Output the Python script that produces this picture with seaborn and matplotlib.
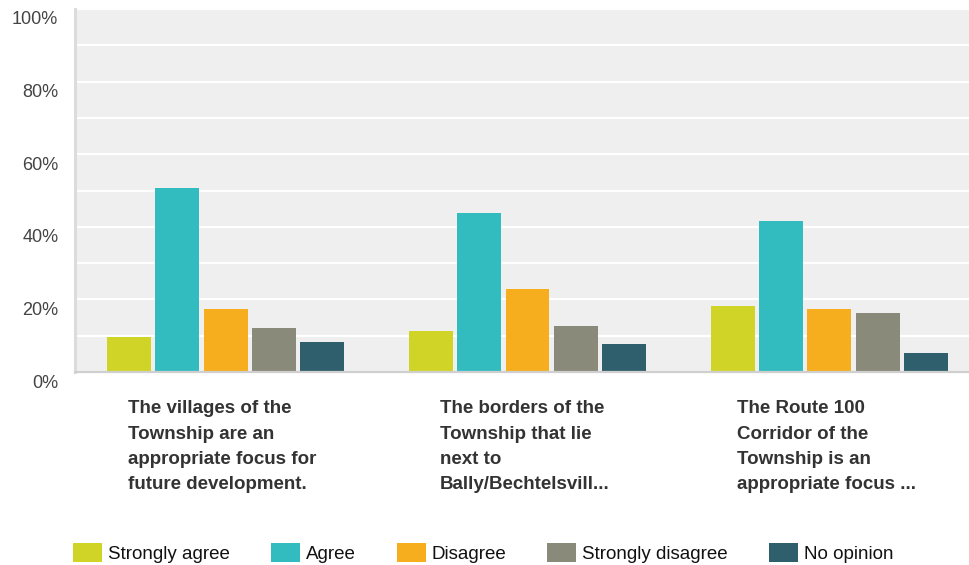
import matplotlib
matplotlib.use("Agg")
import matplotlib.pyplot as plt
import matplotlib.transforms as mtransforms
from matplotlib.patches import Patch
import seaborn as sns
import pandas as pd

categories = [
    "The villages of the\nTownship are an\nappropriate focus for\nfuture development.",
    "The borders of the\nTownship that lie\nnext to\nBally/Bechtelsvill...",
    "The Route 100\nCorridor of the\nTownship is an\nappropriate focus ...",
]
responses = ["Strongly agree", "Agree", "Disagree", "Strongly disagree", "No opinion"]
strongly_agree = [9.6, 11.3, 18.2]
agree = [50.7, 43.8, 41.6]
disagree = [17.4, 22.9, 17.4]
strongly_disagree = [12.1, 12.7, 16.3]
no_opinion = [8.3, 7.7, 5.2]
y_ticks = [0, 20, 40, 60, 80, 100]
y_tick_labels = ["0%", "20%", "40%", "60%", "80%", "100%"]

colors = ["#CFD427", "#33BCBF", "#F6AE1F", "#8A8A7A", "#2F5F6D"]

series = [strongly_agree, agree, disagree, strongly_disagree, no_opinion]
rows = []
for resp, vals in zip(responses, series):
    for cat, v in zip(categories, vals):
        rows.append({"category": cat, "response": resp, "value": v})
df = pd.DataFrame(rows)

sns.set_theme(style="white")
plt.rcParams["font.family"] = ["Liberation Sans", "DejaVu Sans"]

W, H = 969, 565
fig = plt.figure(figsize=(W / 100, H / 100), dpi=100)
ax = fig.add_axes([75 / W, (H - 372) / H, (W - 75) / W, (372 - 9) / H])
ax.set_facecolor("#EFEFEF")

sns.barplot(data=df, x="category", y="value", hue="response",
            hue_order=responses, order=categories, palette=colors,
            width=0.8, gap=0.09, ax=ax, legend=False, saturation=1,
            edgecolor="none", linewidth=0)

ax.set_xlim(-0.4987, 2.4623)
ax.set_ylim(0, 100)
ax.set_yticks(y_ticks)
ax.set_yticklabels(y_tick_labels)
ax.set_yticks(list(range(10, 100, 20)), minor=True)
ax.grid(axis="y", which="both", color="white", linewidth=1.6)
ax.set_axisbelow(True)
ax.set_xlabel("")
ax.set_ylabel("")

for s in ["top", "right"]:
    ax.spines[s].set_visible(False)
ax.spines["left"].set_color("#DCDCDC")
ax.spines["left"].set_linewidth(2.2)
ax.spines["bottom"].set_color("#CFCFCF")
ax.spines["bottom"].set_linewidth(1.6)

ax.tick_params(axis="y", which="both", length=0, pad=12, labelsize=13, labelcolor="#444444")
ax.tick_params(axis="x", length=0, pad=20.5)
offset = mtransforms.ScaledTranslation(0, -9 / 100, fig.dpi_scale_trans)
for lbl in ax.get_yticklabels():
    lbl.set_transform(lbl.get_transform() + offset)

ax.set_xticks(range(len(categories)))
ax.set_xticklabels(categories, fontsize=13.5, fontweight="bold", color="#333333",
                   ha="center", va="top", multialignment="left", linespacing=1.62)
xoffset = mtransforms.ScaledTranslation(-3 / 100, 0, fig.dpi_scale_trans)
for lbl in ax.get_xticklabels():
    lbl.set_transform(lbl.get_transform() + xoffset)

handles = [Patch(facecolor=c, edgecolor="none", label=r) for c, r in zip(colors, responses)]
leg = fig.legend(handles=handles, loc="center", bbox_to_anchor=(483 / W, 1 - 553 / H),
                 ncol=5, frameon=False, fontsize=13.5, handlelength=1.55, handleheight=1.2,
                 handletextpad=0.3, columnspacing=2.2, borderaxespad=0, borderpad=0)
for t in leg.get_texts():
    t.set_color("#111111")

fig.savefig("out.png", dpi=100)
